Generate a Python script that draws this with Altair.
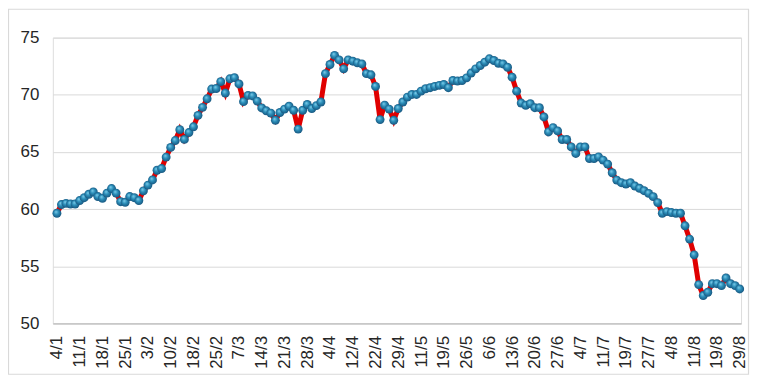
import altair as alt
import pandas as pd

# Daily values (151 trading days)
values = [
    59.64, 60.4, 60.5, 60.45, 60.45, 60.75, 61.0, 61.3, 61.5, 61.1,
    60.95, 61.4, 61.8, 61.4, 60.65, 60.6, 61.1, 61.0, 60.75, 61.6,
    62.1, 62.55, 63.4, 63.55, 64.55, 65.4, 66.0, 66.95, 66.1, 66.7,
    67.2, 68.2, 68.9, 69.65, 70.5, 70.55, 71.15, 70.15, 71.4, 71.5,
    70.95, 69.4, 69.95, 69.9, 69.45, 68.85, 68.6, 68.4, 67.77, 68.45,
    68.75, 69.0, 68.65, 67.0, 68.65, 69.15, 68.8, 69.05, 69.37, 71.85,
    72.65, 73.45, 73.05, 72.27, 73.05, 72.94, 72.8, 72.7, 71.85, 71.75,
    70.73, 67.83, 69.1, 68.75, 67.77, 68.8, 69.37, 69.8, 70.03, 70.03,
    70.32, 70.53, 70.62, 70.73, 70.82, 70.9, 70.62, 71.25, 71.2, 71.25,
    71.48, 71.9, 72.27, 72.56, 72.85, 73.15, 73.0, 72.76, 72.7, 72.41,
    71.54, 70.32, 69.28, 69.08, 69.22, 68.87, 68.87, 68.06, 66.75, 67.13,
    66.84, 66.09, 66.09, 65.44, 64.87, 65.44, 65.44, 64.43, 64.43, 64.57,
    64.29, 63.94, 63.18, 62.54, 62.31, 62.2, 62.31, 62.02, 61.82, 61.61,
    61.38, 61.09, 60.57, 59.64, 59.78, 59.7, 59.64, 59.64, 58.54, 57.38,
    56.0, 53.4, 52.44, 52.73, 53.48, 53.48, 53.31, 53.98, 53.48, 53.31,
    53.02,
]

# Category labels shown on every 5th point
tick_labels = [
    "4/1", "11/1", "18/1", "25/1", "3/2", "10/2", "18/2", "25/2", "7/3",
    "14/3", "21/3", "28/3", "4/4", "12/4", "22/4", "29/4", "11/5", "19/5",
    "26/5", "6/6", "13/6", "20/6", "27/6", "4/7", "11/7", "19/7", "27/7",
    "4/8", "11/8", "19/8", "29/8",
]

y_ticks = [50, 55, 60, 65, 70, 75]

df = pd.DataFrame({"i": list(range(len(values))), "v": values})

label_array = "[" + ",".join("'" + s + "'" for s in tick_labels) + "]"
label_expr = label_array + "[round(datum.value / 5)]"

FONT = "Liberation Sans"

x_enc = alt.X(
    "i:Q",
    scale=alt.Scale(domain=[-0.9, 150.3], nice=False, zero=False),
    axis=alt.Axis(
        values=[k * 5 for k in range(len(tick_labels))],
        labelExpr=label_expr,
        labelAngle=-90,
        labelAlign="right",
        labelBaseline="middle",
        labelOverlap=False,
        labelFlush=False,
        labelBound=False,
        labelPadding=12,
        labelFontSize=17,
        labelFont=FONT,
        labelColor="#262626",
        ticks=False,
        grid=False,
        domain=True,
        domainColor="#bfbfbf",
        domainWidth=1.2,
        title=None,
    ),
)
y_enc = alt.Y(
    "v:Q",
    scale=alt.Scale(domain=[50, 75], nice=False, zero=False),
    axis=alt.Axis(
        values=y_ticks,
        labelFontSize=17,
        labelFont=FONT,
        labelColor="#262626",
        labelPadding=14,
        ticks=False,
        domain=False,
        grid=True,
        gridColor="#d9d9d9",
        gridWidth=1,
        title=None,
    ),
)

base = alt.Chart(df).encode(x=x_enc, y=y_enc)

line = base.mark_line(color="#e00000", strokeWidth=5)

sphere = {
    "gradient": "radial",
    "x1": 0.38, "y1": 0.32, "r1": 0.0,
    "x2": 0.5, "y2": 0.5, "r2": 0.55,
    "stops": [
        {"offset": 0.0, "color": "#86d2ee"},
        {"offset": 0.45, "color": "#2b8fba"},
        {"offset": 1.0, "color": "#154f78"},
    ],
}
points = base.mark_circle(size=80, opacity=1, fill=sphere)

frame = alt.Chart(pd.DataFrame({"a": [0]})).mark_rect(
    filled=False, stroke="#d9d9d9", strokeWidth=1.2
).encode(
    x=alt.value(-44.5), x2=alt.value(698.5),
    y=alt.value(-28.5), y2=alt.value(338),
)

chart = (
    alt.layer(frame, line, points)
    .properties(
        width=691,
        height=287,
        autosize=alt.AutoSizeParams(type="none"),
        padding={"left": 45, "top": 29, "right": 9, "bottom": 52},
    )
    .configure_view(stroke=None)
    .configure(background="white")
)

chart.save("out.html", embed_options={"renderer": "svg", "actions": False})
